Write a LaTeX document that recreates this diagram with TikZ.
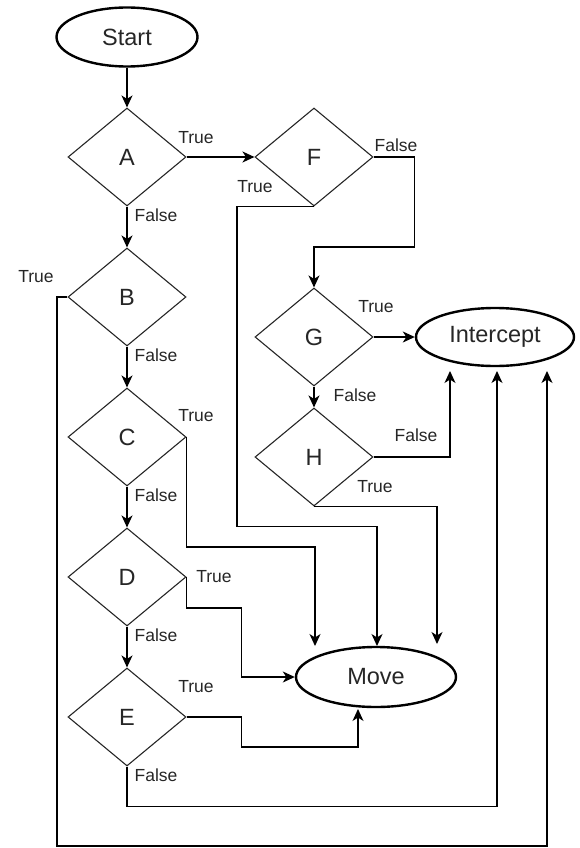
\documentclass[tikz,border=0pt]{standalone}
\usepackage{fontspec}
\setmainfont{Liberation Sans}
\usetikzlibrary{shapes.geometric,arrows.meta}

\begin{document}
\begin{tikzpicture}[x=1pt,y=-1pt,
  term/.style={ellipse,draw=black,line width=2.4pt,inner sep=0pt,
    font=\fontsize{23.5}{26}\selectfont,text=black!85},
  dec/.style={diamond,draw=black!85,line width=1.1pt,inner sep=0pt,
    minimum width=118pt,minimum height=98pt,
    font=\fontsize{23.5}{26}\selectfont,text=black!85},
  lbl/.style={inner sep=0pt,font=\fontsize{17.5}{20}\selectfont,text=black!85},
  arr/.style={draw=black,line width=1.2pt,
    -{Stealth[length=12pt,width=11pt,inset=3.5pt]}},
  wire/.style={draw=black,line width=1.2pt}]
\useasboundingbox (0,0) rectangle (580,848);

% terminals
\node[term,minimum width=141pt,minimum height=59pt] (start) at (127,37) {Start};
\node[term,minimum width=158pt,minimum height=58pt] (icpt) at (495,337) {Intercept};
\node[term,minimum width=160pt,minimum height=60pt] (move) at (376,677) {Move};

% decisions
\node[dec] (A) at (127,157) {A};
\node[dec] (B) at (127,297) {B};
\node[dec] (C) at (127,437) {C};
\node[dec] (D) at (127,577) {D};
\node[dec] (E) at (127,717) {E};
\node[dec] (F) at (314,157) {F};
\node[dec] (G) at (314,337) {G};
\node[dec] (H) at (314,457) {H};

% arrow ends below Intercept and above/below Move
\coordinate (iL) at (450,371);
\coordinate (iM) at (497,371);
\coordinate (iR) at (547,371);
\coordinate (mC) at (315,646);
\coordinate (mF) at (377,646);
\coordinate (mH) at (437,644);
\coordinate (mE) at (358,709);
\coordinate (loop) at (57,846);

% main column
\draw[arr] (start) -- (A);
\draw[arr] (A) -- (B);
\draw[arr] (B) -- (C);
\draw[arr] (C) -- (D);
\draw[arr] (D) -- (E);

% branches to Move
\draw[arr] (C.east) -- ++(0,110) -| (mC);
\draw[arr] (D.east) -- ++(0,31) -- ++(55,0) |- (move.west);
\draw[arr] (E.east) -- ++(55,0) -- ++(0,30) -| (mE);
\draw[arr] (F.south) -- ++(-77,0) -- ++(0,320) -| (mF);
\draw[arr] (H.south) -| (mH);

% branches to Intercept
\draw[arr] (B.west) -| (loop) -| (iR);
\draw[arr] (E.south) -- ++(0,40) -| (iM);
\draw[arr] (H.east) -| (iL);
\draw[arr] (G) -- (icpt);

% right column
\draw[arr] (A) -- (F);
\draw[arr] (F.east) -- ++(41,0) -- ++(0,90) -| (G.north);
\draw[arr] (G) -- (H);

% edge labels
\node[lbl] (lAt) at (196,138) {True};
\node[lbl] (lAf) at (156,215) {False};
\node[lbl] (lBt) at (36,277) {True};
\node[lbl] (lBf) at (156,355) {False};
\node[lbl] (lCt) at (196,416) {True};
\node[lbl] (lCf) at (156,495) {False};
\node[lbl] (lDt) at (214,577) {True};
\node[lbl] (lDf) at (156,635) {False};
\node[lbl] (lEt) at (196,687) {True};
\node[lbl] (lEf) at (156,775) {False};
\node[lbl] (lFt) at (255,187) {True};
\node[lbl] (lFf) at (396,145) {False};
\node[lbl] (lGt) at (376,307) {True};
\node[lbl] (lGf) at (355,395) {False};
\node[lbl] (lHf) at (416,435) {False};
\node[lbl] (lHt) at (375,487) {True};
\end{tikzpicture}
\end{document}
